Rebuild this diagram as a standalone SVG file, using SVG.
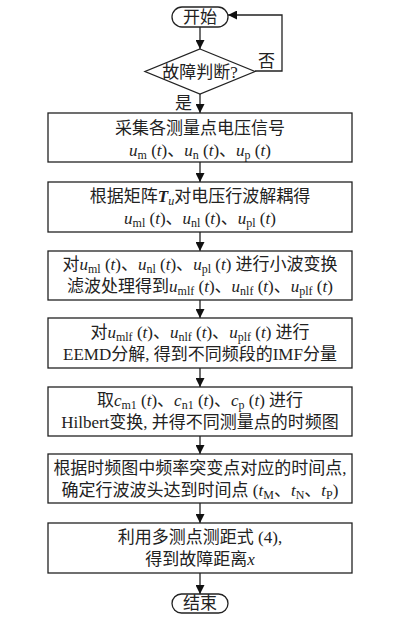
<svg xmlns="http://www.w3.org/2000/svg" width="404" height="619" viewBox="0 0 404 619">
<style>
text{font-family:"Liberation Serif","Noto Sans CJK SC",serif;font-size:17px;fill:#222;text-anchor:middle}
.box{fill:#fff;stroke:#222;stroke-width:1.3}
.ln{fill:none;stroke:#222;stroke-width:1.3}
.i{font-style:italic}
.s{font-size:12px}
.lbl{text-anchor:start}
</style>
<defs>
<marker id="ah" viewBox="0 0 10 10" refX="10" refY="5" markerWidth="9" markerHeight="9" markerUnits="userSpaceOnUse" orient="auto">
<path d="M0,0 L10,5 L0,10 Z" fill="#111"/>
</marker>
</defs>
<rect width="404" height="619" fill="#fff"/>
<g id="connectors">
<line class="ln" x1="200" y1="27" x2="200" y2="49" marker-end="url(#ah)"/>
<line class="ln" x1="200" y1="94" x2="200" y2="113" marker-end="url(#ah)"/>
<polyline class="ln" points="255,71 282,71 282,15 228,15" marker-end="url(#ah)"/>
<line class="ln" x1="200" y1="162" x2="200" y2="182" marker-end="url(#ah)"/>
<line class="ln" x1="200" y1="232" x2="200" y2="251" marker-end="url(#ah)"/>
<line class="ln" x1="200" y1="300" x2="200" y2="318" marker-end="url(#ah)"/>
<line class="ln" x1="200" y1="368" x2="200" y2="387" marker-end="url(#ah)"/>
<line class="ln" x1="200" y1="436" x2="200" y2="454" marker-end="url(#ah)"/>
<line class="ln" x1="200" y1="503" x2="200" y2="523" marker-end="url(#ah)"/>
<line class="ln" x1="200" y1="573" x2="200" y2="594" marker-end="url(#ah)"/>
<text class="lbl" x="258" y="67">否</text>
<text class="lbl" x="175" y="109">是</text>
</g>
<g id="start">
<rect class="box" x="172" y="7" width="56" height="20" rx="10"/>
<text x="200" y="23">开始</text>
</g>
<g id="decision">
<polygon class="box" points="200,49 255,71.5 200,94 145,71.5"/>
<text x="200" y="78">故障判断?</text>
</g>
<g id="box1">
<rect class="box" x="48" y="113" width="304" height="49"/>
<text x="200" y="134">采集各测量点电压信号</text>
<text x="200" y="156"><tspan class="i">u</tspan><tspan class="s" dy="3">m</tspan><tspan dy="-3"> (</tspan><tspan class="i">t</tspan>)、<tspan class="i">u</tspan><tspan class="s" dy="3">n</tspan><tspan dy="-3"> (</tspan><tspan class="i">t</tspan>)、<tspan class="i">u</tspan><tspan class="s" dy="3">p</tspan><tspan dy="-3"> (</tspan><tspan class="i">t</tspan>)</text>
</g>
<g id="box2">
<rect class="box" x="48" y="182" width="304" height="50"/>
<text x="200" y="202">根据矩阵<tspan class="i" font-weight="bold">T</tspan><tspan class="s i" dy="3">u</tspan><tspan dy="-3">对电压行波解耦得</tspan></text>
<text x="200" y="224"><tspan class="i">u</tspan><tspan class="s" dy="3">ml</tspan><tspan dy="-3"> (</tspan><tspan class="i">t</tspan>)、<tspan class="i">u</tspan><tspan class="s" dy="3">nl</tspan><tspan dy="-3"> (</tspan><tspan class="i">t</tspan>)、<tspan class="i">u</tspan><tspan class="s" dy="3">pl</tspan><tspan dy="-3"> (</tspan><tspan class="i">t</tspan>)</text>
</g>
<g id="box3">
<rect class="box" x="48" y="251" width="304" height="49"/>
<text x="200" y="270">对<tspan class="i">u</tspan><tspan class="s" dy="3">ml</tspan><tspan dy="-3"> (</tspan><tspan class="i">t</tspan>)、<tspan class="i">u</tspan><tspan class="s" dy="3">nl</tspan><tspan dy="-3"> (</tspan><tspan class="i">t</tspan>)、<tspan class="i">u</tspan><tspan class="s" dy="3">pl</tspan><tspan dy="-3"> (</tspan><tspan class="i">t</tspan>) 进行小波变换</text>
<text x="200" y="292">滤波处理得到<tspan class="i">u</tspan><tspan class="s" dy="3">mlf</tspan><tspan dy="-3"> (</tspan><tspan class="i">t</tspan>)、<tspan class="i">u</tspan><tspan class="s" dy="3">nlf</tspan><tspan dy="-3"> (</tspan><tspan class="i">t</tspan>)、<tspan class="i">u</tspan><tspan class="s" dy="3">plf</tspan><tspan dy="-3"> (</tspan><tspan class="i">t</tspan>)</text>
</g>
<g id="box4">
<rect class="box" x="48" y="318" width="304" height="50"/>
<text x="200" y="338">对<tspan class="i">u</tspan><tspan class="s" dy="3">mlf</tspan><tspan dy="-3"> (</tspan><tspan class="i">t</tspan>)、<tspan class="i">u</tspan><tspan class="s" dy="3">nlf</tspan><tspan dy="-3"> (</tspan><tspan class="i">t</tspan>)、<tspan class="i">u</tspan><tspan class="s" dy="3">plf</tspan><tspan dy="-3"> (</tspan><tspan class="i">t</tspan>) 进行</text>
<text x="200" y="360">EEMD分解, 得到不同频段的IMF分量</text>
</g>
<g id="box5">
<rect class="box" x="48" y="387" width="304" height="49"/>
<text x="200" y="406">取<tspan class="i">c</tspan><tspan class="s" dy="3">m1</tspan><tspan dy="-3"> (</tspan><tspan class="i">t</tspan>)、<tspan class="i">c</tspan><tspan class="s" dy="3">n1</tspan><tspan dy="-3"> (</tspan><tspan class="i">t</tspan>)、<tspan class="i">c</tspan><tspan class="s" dy="3">p</tspan><tspan dy="-3"> (</tspan><tspan class="i">t</tspan>) 进行</text>
<text x="200" y="428">Hilbert变换, 并得不同测量点的时频图</text>
</g>
<g id="box6">
<rect class="box" x="48" y="454" width="304" height="49"/>
<text x="200" y="474">根据时频图中频率突变点对应的时间点,</text>
<text x="200" y="496">确定行波波头达到时间点 (<tspan class="i">t</tspan><tspan class="s" dy="3">M</tspan><tspan dy="-3">、</tspan><tspan class="i">t</tspan><tspan class="s" dy="3">N</tspan><tspan dy="-3">、</tspan><tspan class="i">t</tspan><tspan class="s" dy="3">P</tspan><tspan dy="-3">)</tspan></text>
</g>
<g id="box7">
<rect class="box" x="48" y="523" width="304" height="50"/>
<text x="200" y="543">利用多测点测距式 (4),</text>
<text x="200" y="565">得到故障距离<tspan class="i">x</tspan></text>
</g>
<g id="end">
<rect class="box" x="172" y="594" width="56" height="19" rx="9.5"/>
<text x="200" y="609">结束</text>
</g>
</svg>
